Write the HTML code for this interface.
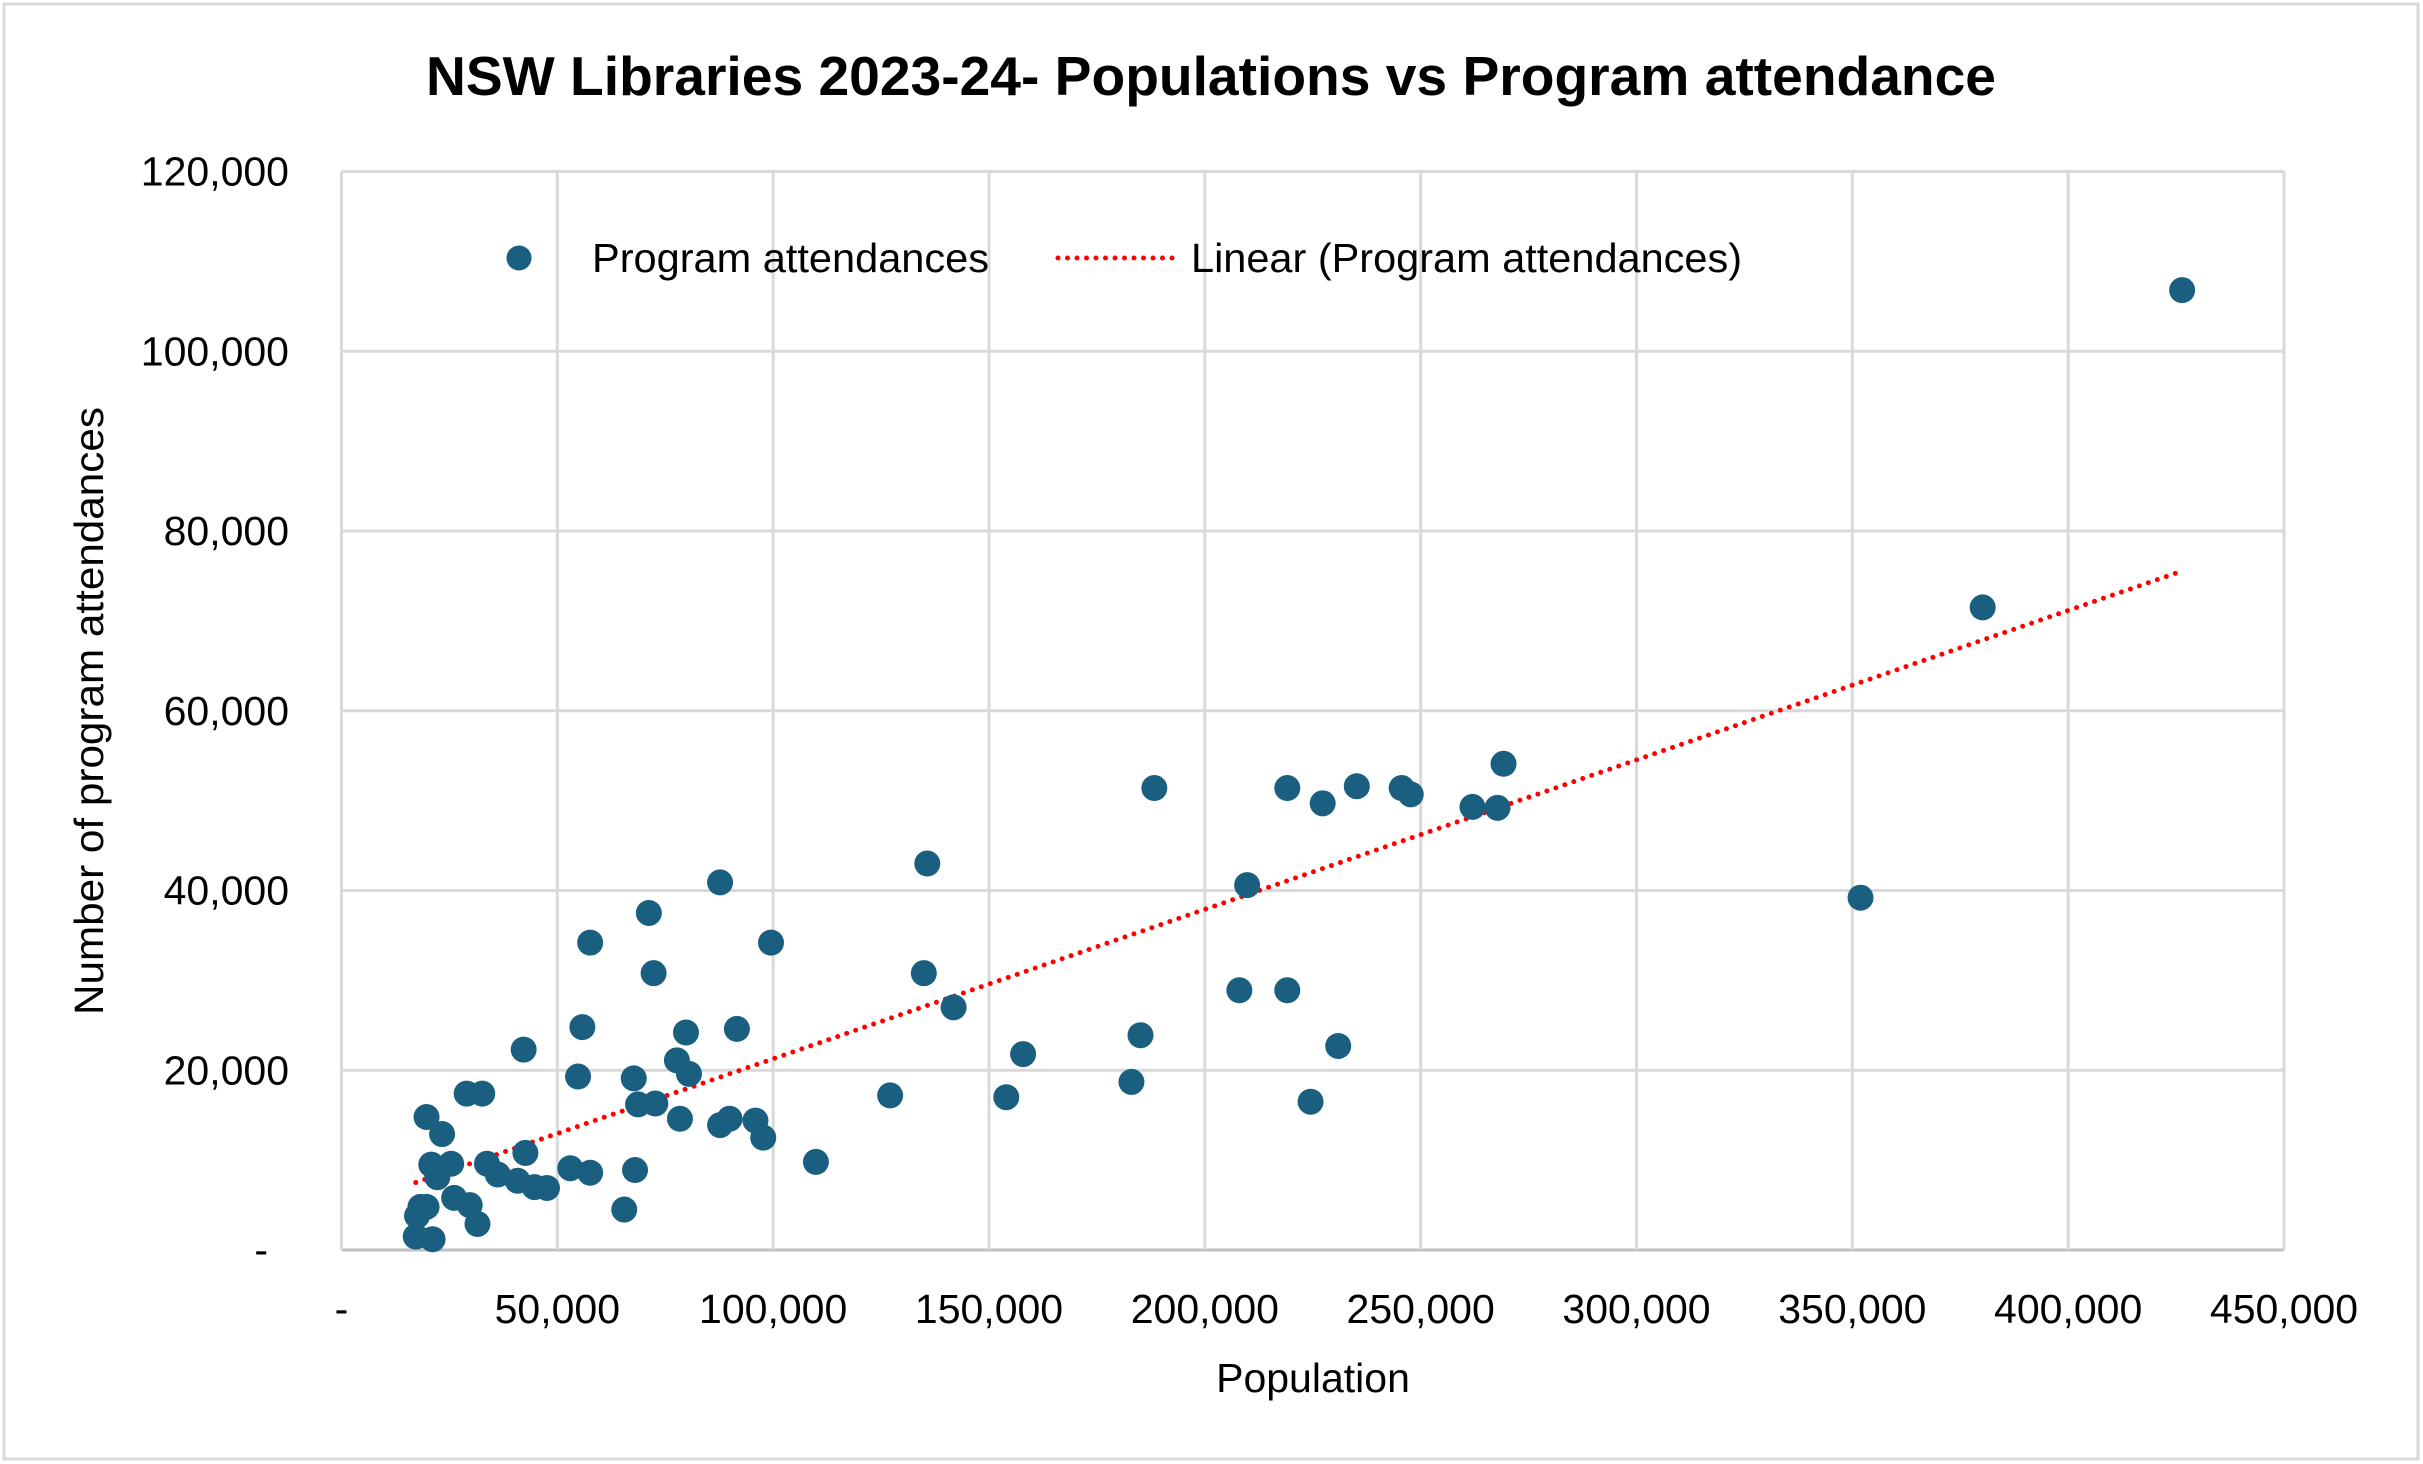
<!DOCTYPE html>
<html><head><meta charset="utf-8"><style>
html,body{margin:0;padding:0;background:#fff;}
svg{display:block;font-family:"Liberation Sans",Arial,sans-serif;}
</style></head><body>
<svg id="chart" width="2423" height="1464" viewBox="0 0 2423 1464">
<rect x="4" y="4" width="2414" height="1455" fill="#fff" stroke="#d9d9d9" stroke-width="3"/>
<text x="1211" y="95" text-anchor="middle" font-size="55" font-weight="bold" fill="#000" textLength="1570" lengthAdjust="spacingAndGlyphs">NSW Libraries 2023-24- Populations vs Program attendance</text>
<g id="grid"></g>
<g id="axes"></g>
<g id="trend"></g>
<g id="points"></g>
<g>
<circle cx="519" cy="258" r="12.5" fill="#1a5f80"/>
<text x="592" y="272" font-size="41" fill="#000" textLength="397" lengthAdjust="spacingAndGlyphs">Program attendances</text>
<line x1="1058" y1="258" x2="1177" y2="258" stroke="#ff0000" stroke-width="5" stroke-dasharray="0 9.5" stroke-linecap="round"/>
<text x="1191" y="272" font-size="41" fill="#000" textLength="551" lengthAdjust="spacingAndGlyphs">Linear (Program attendances)</text>
</g>
<text transform="translate(103,711) rotate(-90)" text-anchor="middle" font-size="41" fill="#000" textLength="608" lengthAdjust="spacingAndGlyphs">Number of program attendances</text>
<text x="1313" y="1392" text-anchor="middle" font-size="41" fill="#000">Population</text>
</svg>
<script>
const xTicks=[0,50000,100000,150000,200000,250000,300000,350000,400000,450000];
const yTicks=[0,20000,40000,60000,80000,100000,120000];
const population=[17200,21100,17500,18300,19700,19700,20800,22200,23300,25400,26100,29000,29700,31500,32600,33700,36200,40800,42200,42600,44700,47600,53000,54800,55800,57600,57600,65500,67700,68000,68700,71200,72300,72700,77700,78400,79800,80500,87700,87700,89900,91600,95900,97700,99500,109900,127100,134900,135700,141800,154000,157900,183000,185100,188300,208000,209800,219100,219100,224500,227300,230900,235200,245600,247700,262000,267800,269200,351900,380200,426400];
const attendances=[1500,1200,3800,4800,4800,14800,9500,8100,12900,9600,5800,17400,5000,2900,17400,9600,8400,7700,22300,10800,7000,6900,9100,19300,24800,34200,8600,4500,19100,8900,16200,37500,30800,16300,21100,14600,24200,19600,40900,13900,14600,24600,14400,12500,34200,9800,17200,30800,43000,27000,17000,21800,18700,23900,51400,28900,40600,51400,28900,16500,49700,22700,51600,51400,50700,49300,49200,54100,39200,71500,106800];
const NS="http://www.w3.org/2000/svg";
const L=341.5,R=2284,T=171.5,B=1250;
const sx=v=>L+(v-0)/450000*(R-L);
const sy=v=>B-(v-0)/120000*(B-T);
function mk(tag,attrs,parent,txt){const e=document.createElementNS(NS,tag);for(const k in attrs)e.setAttribute(k,attrs[k]);if(txt!==undefined)e.textContent=txt;parent.appendChild(e);return e;}
const grid=document.getElementById('grid'),axes=document.getElementById('axes');
const fmt=v=>v===0?'-':v.toLocaleString('en-US');
yTicks.forEach(v=>{
  const ln=mk('line',{x1:L,x2:R,y1:sy(v),y2:sy(v),stroke:v===0?'#bfbfbf':'#d9d9d9','stroke-width':3},grid);
  
  
  const t=mk('text',{x:v===0?268:289,y:sy(v)+14,'text-anchor':'end','font-size':41,fill:'#000'},axes,fmt(v));
  
  
});
xTicks.forEach(v=>{
  const ln=mk('line',{x1:sx(v),x2:sx(v),y1:T,y2:B,stroke:'#d9d9d9','stroke-width':3},grid);
  
  
  const t=mk('text',{x:sx(v),y:1323,'text-anchor':'middle','font-size':41,fill:'#000'},axes,fmt(v));
  
  
});
const n=population.length;let mx=0,my=0;for(let i=0;i<n;i++){mx+=population[i];my+=attendances[i];}mx/=n;my/=n;
let sxy=0,sxx=0;for(let i=0;i<n;i++){sxy+=(population[i]-mx)*(attendances[i]-my);sxx+=(population[i]-mx)**2;}
const slope=sxy/sxx,icpt=my-slope*mx;
const xmin=Math.min(...population),xmax=Math.max(...population);
const tl=mk('line',{x1:sx(xmin),y1:sy(icpt+slope*xmin),x2:sx(xmax),y2:sy(icpt+slope*xmax),stroke:'#ff0000','stroke-width':5,'stroke-dasharray':'0 9.5','stroke-linecap':'round'},document.getElementById('trend'));


const pts=document.getElementById('points');
for(let i=0;i<n;i++){
  const c=mk('circle',{cx:sx(population[i]),cy:sy(attendances[i]),r:13,fill:'#1a5f80'},pts);
  
  
}
</script>
</body></html>
